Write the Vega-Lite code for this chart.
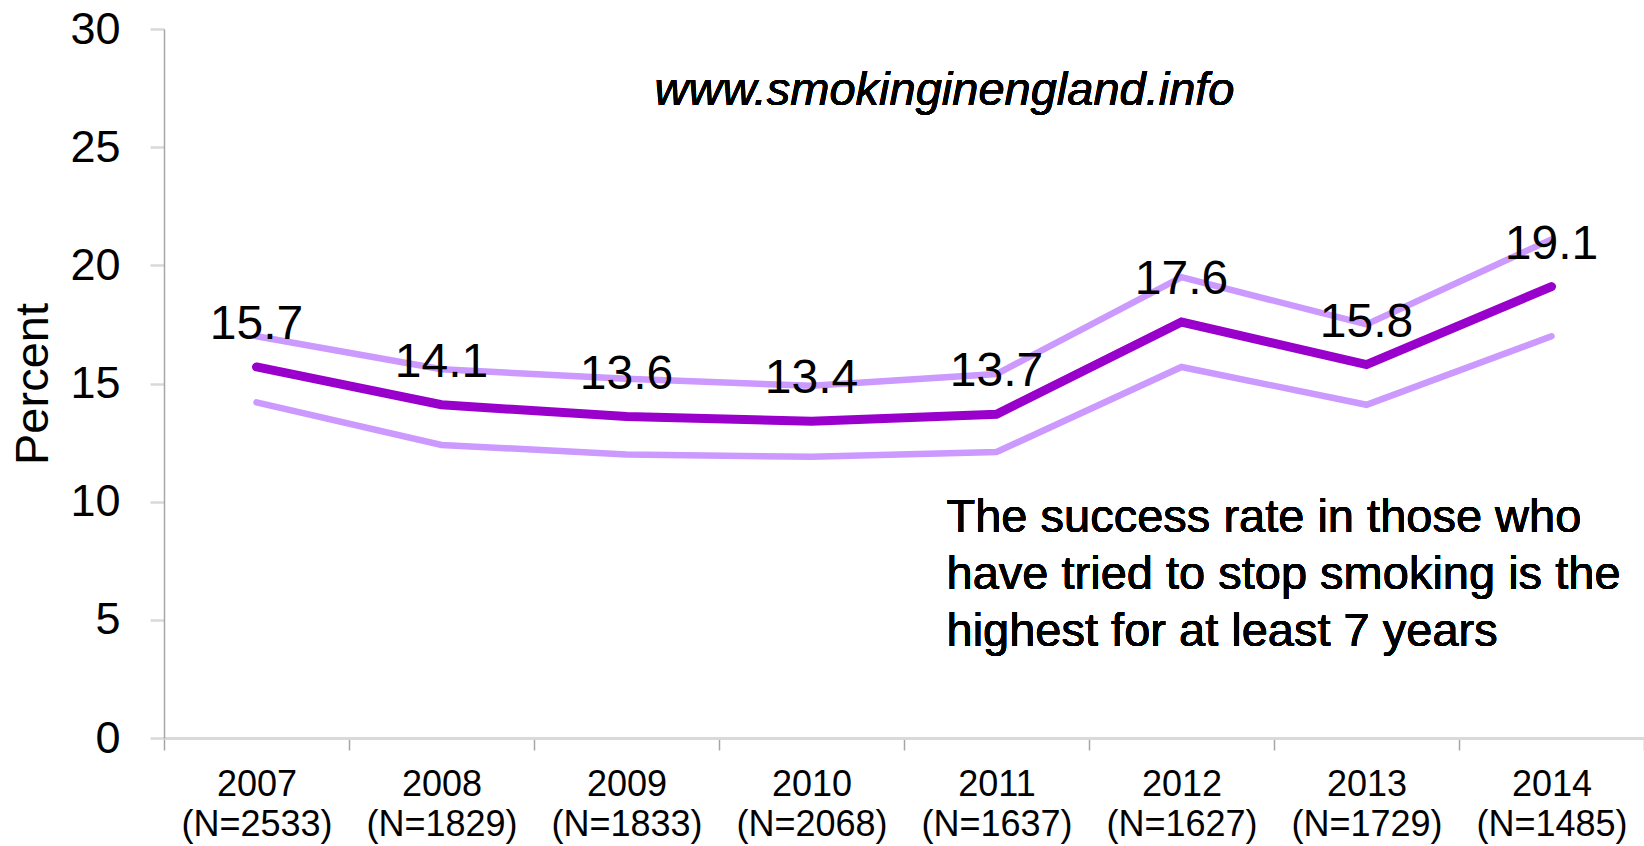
{
  "$schema": "https://vega.github.io/schema/vega-lite/v6.json",
  "width": 1480,
  "height": 709,
  "autosize": {"type": "none"},
  "padding": {"left": 164, "top": 29, "right": 0, "bottom": 108},
  "background": "white",
  "config": {
    "view": {"stroke": null},
    "font": "Liberation Sans"
  },
  "data": {
    "values": [
      {"year": "2007|(N=2533)", "est": 15.7, "lo": 14.2, "hi": 17.0},
      {"year": "2008|(N=1829)", "est": 14.1, "lo": 12.4, "hi": 15.6},
      {"year": "2009|(N=1833)", "est": 13.6, "lo": 12.0, "hi": 15.2},
      {"year": "2010|(N=2068)", "est": 13.4, "lo": 11.9, "hi": 14.9},
      {"year": "2011|(N=1637)", "est": 13.7, "lo": 12.1, "hi": 15.4},
      {"year": "2012|(N=1627)", "est": 17.6, "lo": 15.7, "hi": 19.5},
      {"year": "2013|(N=1729)", "est": 15.8, "lo": 14.1, "hi": 17.5},
      {"year": "2014|(N=1485)", "est": 19.1, "lo": 17.0, "hi": 21.1}
    ]
  },
  "encoding": {
    "x": {
      "field": "year",
      "type": "nominal",
      "sort": null,
      "scale": {"paddingInner": 0, "paddingOuter": 0},
      "axis": {
        "title": null,
        "labelAngle": 0,
        "tickBand": "extent",
        "labelExpr": "isString(datum.value) ? split(datum.value, '|') : ''",
        "labelFont": "Liberation Sans",
        "labelFontSize": 36,
        "labelLineHeight": 40,
        "labelColor": "black",
        "labelPadding": 17,
        "labelBaseline": "top",
        "tickSize": 12,
        "tickColor": "#a6a6a6",
        "tickWidth": 1.5,
        "domainColor": "#d9d9d9",
        "domainWidth": 3,
        "labelOverlap": false
      }
    }
  },
  "layer": [
    {
      "mark": {"type": "line", "color": "#CC99FF", "strokeWidth": 6.5, "strokeCap": "round"},
      "encoding": {
        "y": {
          "field": "hi",
          "type": "quantitative",
          "scale": {"domain": [0, 30], "nice": false},
          "axis": {
            "title": "Percent",
            "titleFont": "Liberation Sans",
            "titleFontSize": 47,
            "titleFontWeight": "normal",
            "titleColor": "black",
            "titlePadding": 12,
            "values": [0, 5, 10, 15, 20, 25, 30],
            "labelFont": "Liberation Sans",
            "labelFontSize": 45,
            "labelColor": "black",
            "labelPadding": 30,
            "tickSize": 14,
            "tickColor": "#d9d9d9",
            "tickWidth": 2.5,
            "domainColor": "#a6a6a6",
            "domainWidth": 1.5,
            "grid": false
          }
        }
      }
    },
    {
      "mark": {"type": "line", "color": "#CC99FF", "strokeWidth": 6.5, "strokeCap": "round"},
      "encoding": {"y": {"field": "lo", "type": "quantitative"}}
    },
    {
      "mark": {"type": "line", "color": "#9900CC", "strokeWidth": 9, "strokeCap": "round"},
      "encoding": {"y": {"field": "est", "type": "quantitative"}}
    },
    {
      "mark": {"type": "text", "fontSize": 48, "font": "Liberation Sans", "color": "black", "baseline": "alphabetic", "dy": -28, "align": "center"},
      "encoding": {
        "y": {"field": "est", "type": "quantitative"},
        "text": {"field": "est", "type": "quantitative", "format": ".1f"}
      }
    },
    {
      "mark": {"type": "text", "fontSize": 47, "font": "Liberation Sans", "fontStyle": "italic", "color": "black", "baseline": "alphabetic", "align": "center", "dx": -52, "text": "www.smokinginengland.info"},
      "encoding": {
        "x": {"datum": "2011|(N=1637)"},
        "y": {"datum": 26.78}
      }
    },
    {
      "mark": {"type": "text", "fontSize": 47, "font": "Liberation Sans", "color": "black", "baseline": "alphabetic", "align": "left", "dx": -50, "lineHeight": 57, "text": ["The success rate in those who", "have tried to stop smoking is the", "highest for at least 7 years"]},
      "encoding": {
        "x": {"datum": "2011|(N=1637)"},
        "y": {"datum": 8.72}
      }
    }
  ]
}
